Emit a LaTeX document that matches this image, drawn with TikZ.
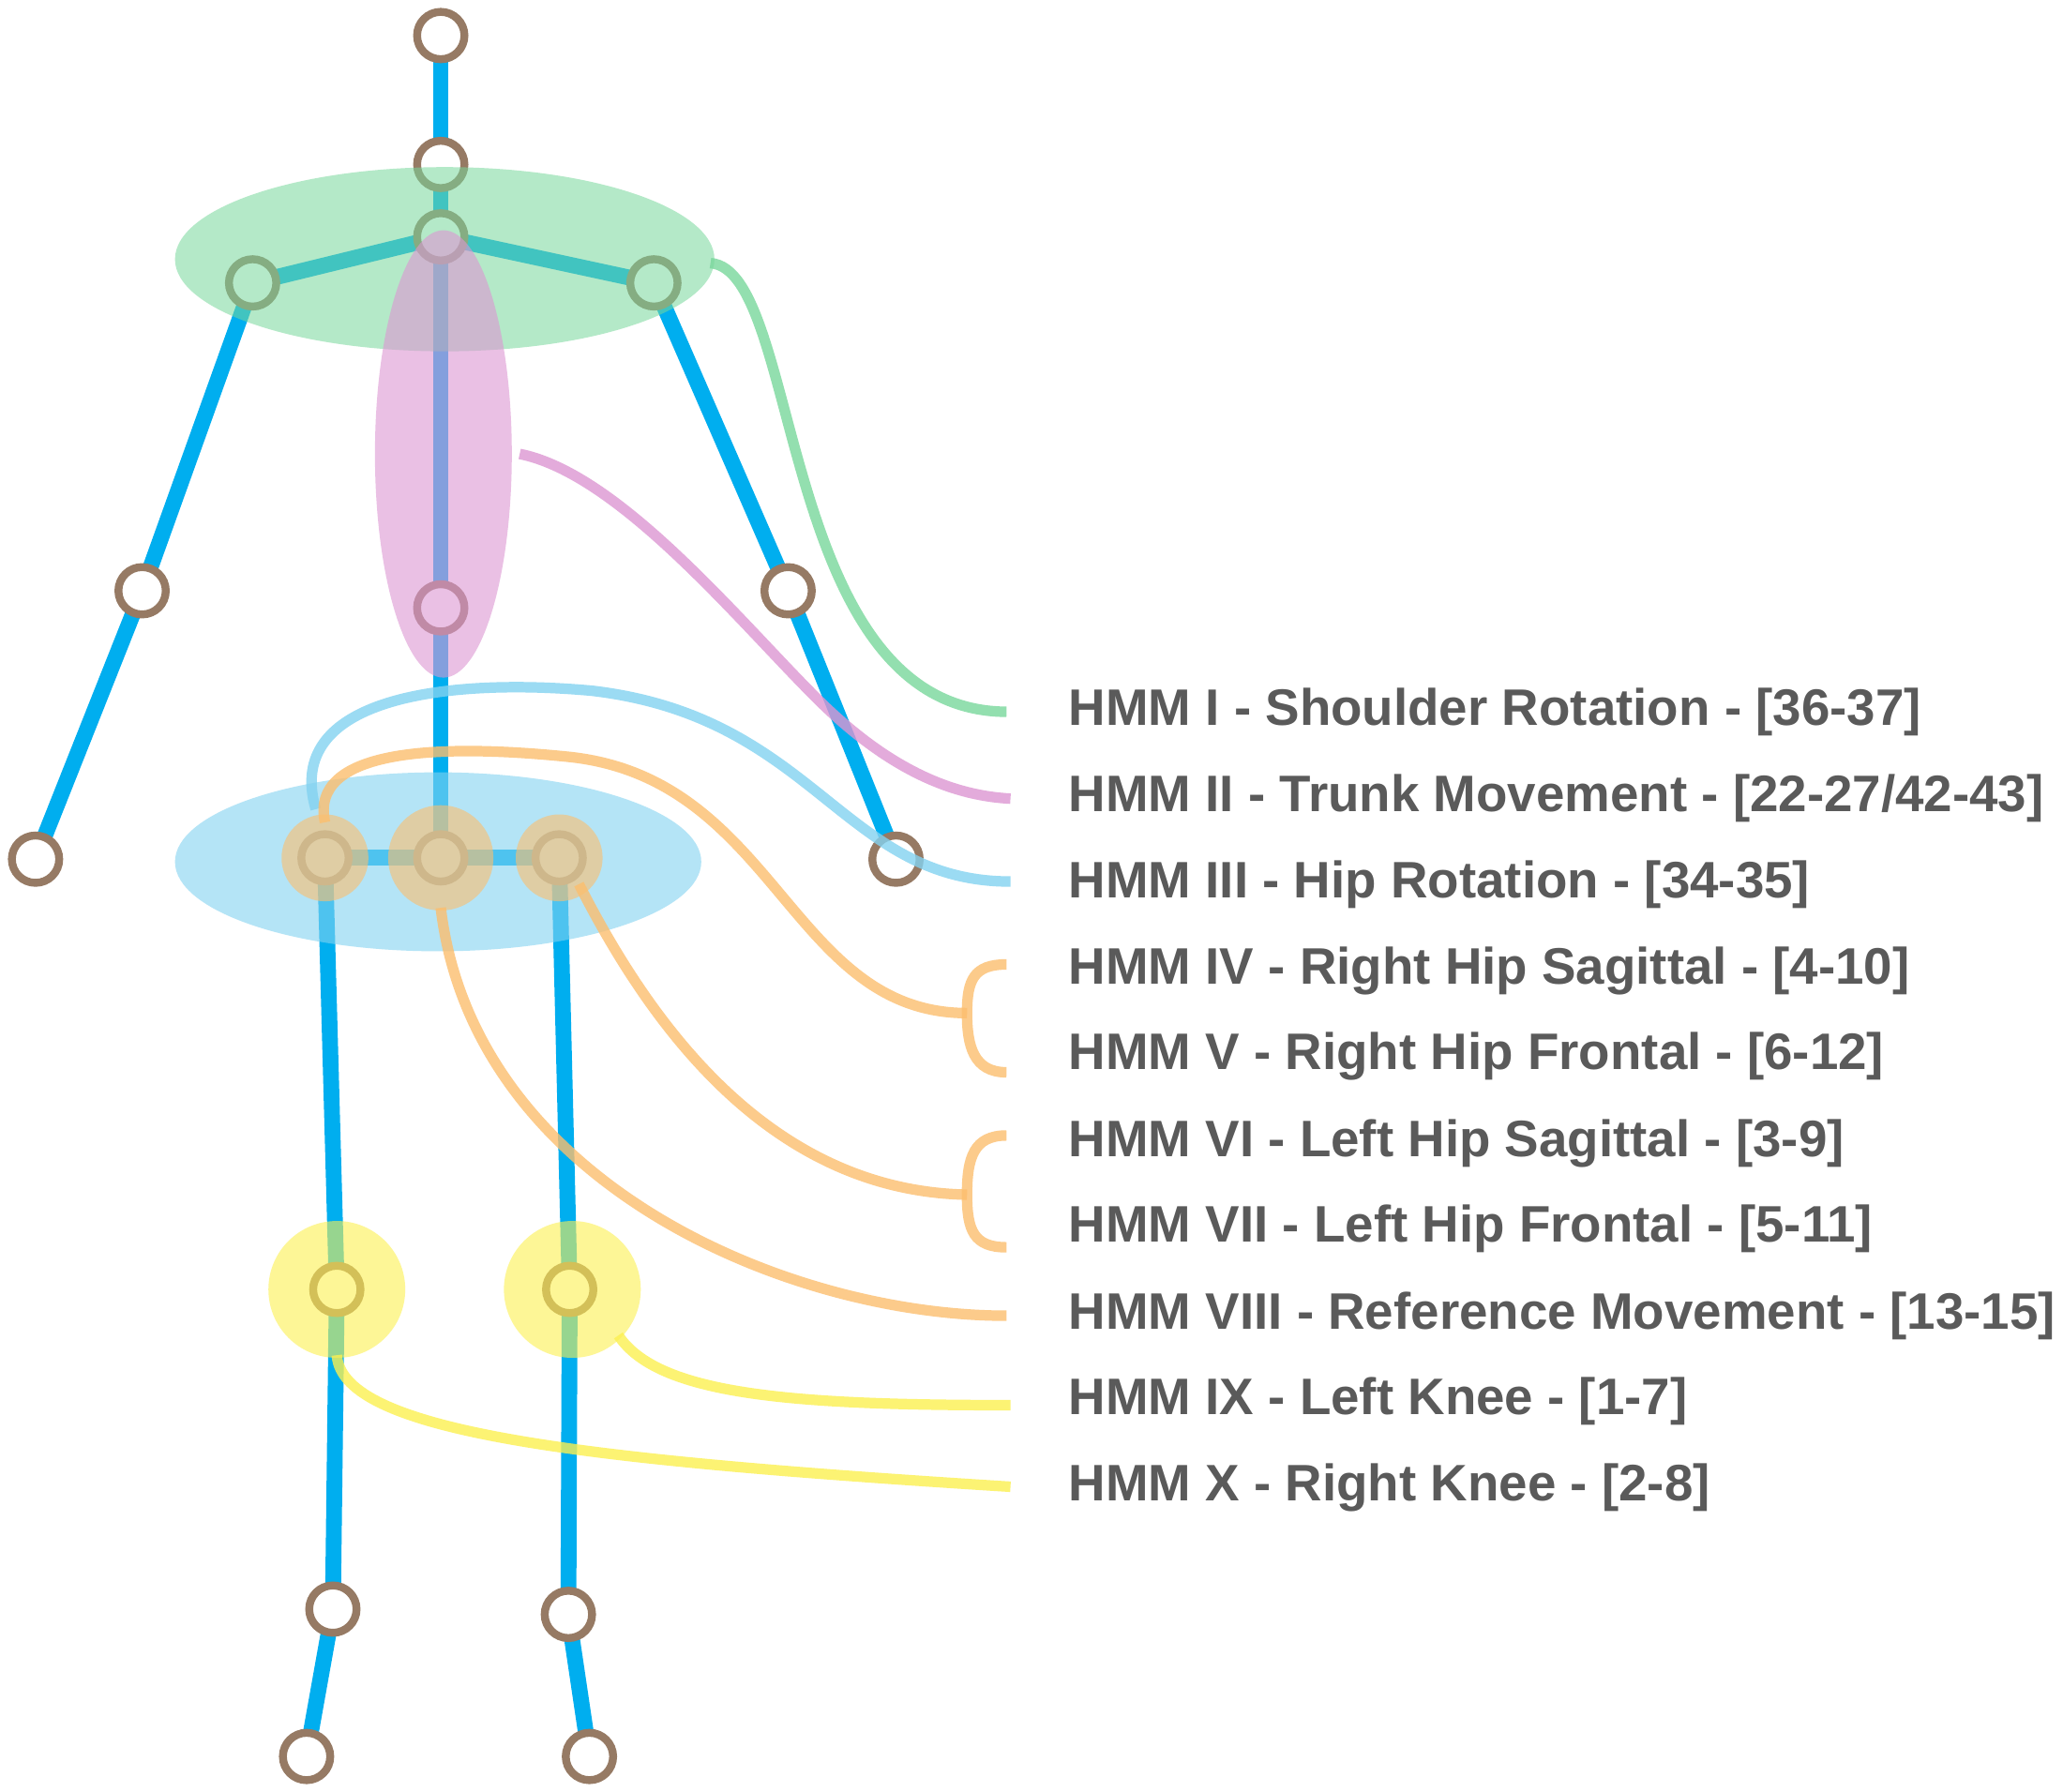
\documentclass[tikz,border=0pt]{standalone}
\usepackage{fontspec}
\setmainfont{Liberation Sans}
\begin{document}
\begin{tikzpicture}[x=0.5pt,y=-0.5pt,
  bone/.style={line width=6pt,draw=boneblue},
  joint/.style={circle,draw=jointbrown,line width=3pt,fill=white,minimum size=18pt,inner sep=0pt},
  lbl/.style={anchor=west,font=\bfseries\fontsize{19.5}{22}\selectfont,text=txtgray,inner sep=0pt},
  lead/.style={line width=4pt,opacity=0.8}]
\definecolor{boneblue}{RGB}{0,174,239}
\definecolor{jointbrown}{RGB}{150,122,100}
\definecolor{txtgray}{RGB}{90,90,90}
\definecolor{egreen}{RGB}{120,215,155}
\definecolor{epink}{RGB}{220,150,210}
\definecolor{eblue}{RGB}{130,210,240}
\definecolor{eorange}{RGB}{252,190,110}
\definecolor{eyellow}{RGB}{252,240,80}
\useasboundingbox[fill=white] (0,0) rectangle (1568,1362);
% bones
\coordinate (head) at (335,27);
\coordinate (neck) at (335,125);
\coordinate (st) at (335,180);
\coordinate (ls) at (192,215);
\coordinate (rs) at (497,215);
\coordinate (le) at (108,449);
\coordinate (re) at (599,449);
\coordinate (lh) at (27,653);
\coordinate (rh) at (681,653);
\coordinate (ms) at (335,462);
\coordinate (hc) at (335,652);
\coordinate (lhp) at (247,652);
\coordinate (rhp) at (425,652);
\coordinate (lk) at (256,980);
\coordinate (rk) at (433,980);
\coordinate (la) at (253,1223);
\coordinate (ra) at (432,1227);
\coordinate (lf) at (233,1335);
\coordinate (rf) at (448,1335);
\draw[bone] (head)--(neck)--(st)--(ms)--(hc);
\draw[bone] (lh)--(le)--(ls)--(st)--(rs)--(re)--(rh);
\draw[bone] (lhp)--(hc)--(rhp);
\draw[bone] (lhp)--(lk)--(la)--(lf);
\draw[bone] (rhp)--(rk)--(ra)--(rf);
% joints
\foreach \n in {head,neck,st,ls,rs,le,re,lh,rh,ms,hc,lhp,rhp,lk,rk,la,ra,lf,rf}
  \node[joint] (j\n) at (\n) {};
% regions
\fill[egreen,opacity=0.55] (338,197) ellipse [x radius=205,y radius=70];
\fill[epink,opacity=0.6] (337,345) ellipse [x radius=52,y radius=170];
\fill[eblue,opacity=0.6] (333,655) ellipse [x radius=200,y radius=68];
\fill[eyellow,opacity=0.6] (256,980) circle (52);
\fill[eyellow,opacity=0.6] (435,980) circle (52);
\fill[eorange,opacity=0.6] (335,652) circle (40);
\fill[eorange,opacity=0.6] (247,652) circle (33);
\fill[eorange,opacity=0.6] (425,652) circle (33);
% labels
\node[lbl] (t1) at (812,541) {HMM I - Shoulder Rotation - [36-37]};
\node[lbl] (t2) at (812,607) {HMM II - Trunk Movement - [22-27/42-43]};
\node[lbl] (t3) at (812,672) {HMM III - Hip Rotation - [34-35]};
\node[lbl] (t4) at (812,738) {HMM IV - Right Hip Sagittal - [4-10]};
\node[lbl] (t5) at (812,803) {HMM V - Right Hip Frontal - [6-12]};
\node[lbl] (t6) at (812,869) {HMM VI - Left Hip Sagittal - [3-9]};
\node[lbl] (t7) at (812,934) {HMM VII - Left Hip Frontal - [5-11]};
\node[lbl] (t8) at (812,1000) {HMM VIII - Reference Movement - [13-15]};
\node[lbl] (t9) at (812,1065) {HMM IX - Left Knee - [1-7]};
\node[lbl] (t10) at (812,1131) {HMM X - Right Knee - [2-8]};
% leaders
\coordinate (e1) at (765,541);
\coordinate (e2) at (768,607);
\coordinate (e3) at (768,670);
\coordinate (e8) at (765,1000);
\coordinate (e9) at (768,1068);
\coordinate (e10) at (768,1130);
\draw[lead,egreen] (540,200) .. controls (610,205) and (590,540) .. (e1);
\draw[lead,epink] (395,345) .. controls (470,360) and (560,470) .. (620,530) .. controls (680,590) and (730,605) .. (e2);
\draw[lead,eblue] (240,615) .. controls (215,530) and (340,515) .. (450,525) .. controls (620,545) and (640,670) .. (e3);
\draw[lead,eorange] (247,625) .. controls (235,570) and (330,565) .. (430,575) .. controls (590,590) and (600,770) .. (735,770);
\draw[lead,eorange] (765,733) .. controls (740,733) and (735,745) .. (735,770) .. controls (735,795) and (740,815) .. (765,815);
\draw[lead,eorange] (440,672) .. controls (490,770) and (580,905) .. (735,908);
\draw[lead,eorange] (765,863) .. controls (740,863) and (735,880) .. (735,908) .. controls (735,935) and (740,948) .. (765,948);
\draw[lead,eorange] (335,690) .. controls (360,900) and (600,1000) .. (e8);
\draw[lead,eyellow] (470,1015) .. controls (500,1060) and (600,1068) .. (e9);
\draw[lead,eyellow] (256,1030) .. controls (260,1090) and (450,1110) .. (e10);
\end{tikzpicture}
\end{document}
